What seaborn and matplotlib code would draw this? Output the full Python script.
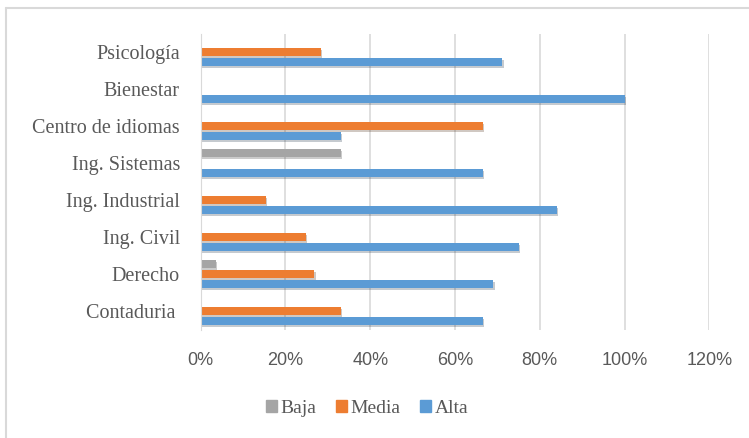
import pandas as pd
import matplotlib.pyplot as plt
import matplotlib.patheffects as pe
from matplotlib.lines import Line2D
from matplotlib.ticker import PercentFormatter
import seaborn as sns

categories = ["Psicología", "Bienestar", "Centro de idiomas", "Ing. Sistemas",
              "Ing. Industrial", "Ing. Civil", "Derecho", "Contaduria "]
levels = ["Baja", "Media", "Alta"]
baja = [0.0, 0.0, 0.0, 0.33, 0.0, 0.0, 0.035, 0.0]
media = [0.283, 0.0, 0.665, 0.0, 0.153, 0.248, 0.268, 0.33]
alta = [0.712, 1.0, 0.33, 0.665, 0.84, 0.75, 0.69, 0.665]
colors = ["#A5A5A5", "#ED7D31", "#5B9BD5"]

df = pd.DataFrame({
    "categoria": categories * 3,
    "nivel": [l for l in levels for _ in categories],
    "valor": baja + media + alta,
})

sns.set_style("white")
plt.rcParams["font.family"] = ["Liberation Serif", "DejaVu Serif"]

fig = plt.figure(figsize=(7.49, 4.38), dpi=100)
ax = fig.add_axes([0.268, 0.2477, 0.679, 0.6758])

sns.barplot(data=df, x="valor", y="categoria", hue="nivel", order=categories,
            hue_order=levels, palette=colors, orient="h", width=0.81, gap=0.12,
            saturation=1, linewidth=0, edgecolor="none", ax=ax, legend=True)

for bar in ax.patches:
    bar.set_path_effects([pe.SimplePatchShadow(offset=(1.0, -1.5), alpha=0.25),
                          pe.Normal()])

ax.set_xlim(0, 1.2)
ax.set_ylim(7.5, -0.5)
ax.xaxis.set_major_formatter(PercentFormatter(1.0, decimals=0))
ax.set_xticks([0, 0.2, 0.4, 0.6, 0.8, 1.0, 1.2])
ax.grid(axis="x", color="#D9D9D9", linewidth=1.2)
ax.set_axisbelow(True)
for s in ["top", "right", "bottom"]:
    ax.spines[s].set_visible(False)
ax.spines["left"].set_color("#D9D9D9")
ax.set_xlabel("")
ax.set_ylabel("")
ax.tick_params(axis="y", length=0, pad=15, labelsize=14.5, labelcolor="#595959")
ax.tick_params(axis="x", length=0, pad=16, labelcolor="#595959")
for t in ax.get_xticklabels():
    t.set_fontfamily("Liberation Sans")
    t.set_fontsize(13)

ax.legend_.remove()
handles = [plt.Rectangle((0, 0), 1, 1, color=c) for c in colors]
fig.legend(handles, levels, loc="center", bbox_to_anchor=(0.49, 0.068), ncol=3,
           frameon=False, fontsize=14, handlelength=0.55, handleheight=0.55,
           handletextpad=0.2, columnspacing=1.0, labelcolor="#595959")

fig.add_artist(Line2D([6 / 749, 6 / 749], [0, 1 - 8 / 438], color="#D9D9D9", lw=1.5))
fig.add_artist(Line2D([6 / 749, 1], [1 - 8 / 438, 1 - 8 / 438], color="#D9D9D9", lw=1.5))

fig.savefig("out.png", dpi=100)
